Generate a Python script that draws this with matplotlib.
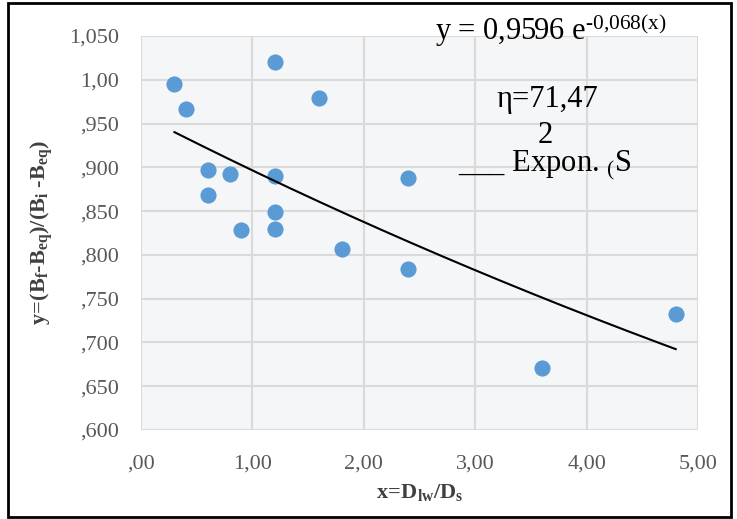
import numpy as np
import matplotlib
matplotlib.use("Agg")
import matplotlib.pyplot as plt
from matplotlib.patches import Rectangle

# ---- data ----
x_vals = [0.30, 0.40, 1.20, 1.60, 0.60, 0.80, 0.60, 1.20, 0.90, 1.20, 1.20, 1.80, 2.40, 2.40, 3.60, 4.80]
y_vals = [0.995, 0.967, 1.020, 0.979, 0.897, 0.892, 0.868, 0.890, 0.828, 0.849, 0.830, 0.807, 0.888, 0.784, 0.671, 0.733]
fit_a = 0.9596
fit_b = -0.068
fit_range = [0.30, 4.80]
x_ticks = [0, 1, 2, 3, 4, 5]
x_ticklabels = [',00', '1,00', '2,00', '3,00', '4,00', '5,00']
y_ticks = [0.60, 0.65, 0.70, 0.75, 0.80, 0.85, 0.90, 0.95, 1.00, 1.05]
y_ticklabels = [',600', ',650', ',700', ',750', ',800', ',850', ',900', ',950', '1,00', '1,050']

plt.rcParams['font.family'] = ['Liberation Serif', 'DejaVu Serif']
plt.rcParams['mathtext.fontset'] = 'custom'
plt.rcParams['mathtext.rm'] = 'Liberation Serif'
plt.rcParams['mathtext.it'] = 'Liberation Serif:italic'
plt.rcParams['mathtext.bf'] = 'Liberation Serif:bold'

W, H = 737, 519
fig = plt.figure(figsize=(W / 100, H / 100), dpi=100)
fig.patch.set_facecolor('white')

left, right, top, bottom = 141, 698, 36, 430
ax = fig.add_axes([left / W, 1 - bottom / H, (right - left) / W, (bottom - top) / H])
ax.set_facecolor('#F5F6F7')
ax.set_xlim(0, 5)
ax.set_ylim(0.6, 1.05)
ax.set_xticks(x_ticks)
ax.set_xticklabels(x_ticklabels)
ax.set_yticks(y_ticks)
ax.set_yticklabels(y_ticklabels)
ax.grid(True, color='#DADADA', linewidth=1.5)
ax.set_axisbelow(True)
for s in ax.spines.values():
    s.set_visible(False)
ax.tick_params(length=0, labelsize=16, colors='#595959')
ax.tick_params(axis='y', pad=16)
ax.tick_params(axis='x', pad=18)

ax.scatter(x_vals, y_vals, s=135, color='#5B9BD5', zorder=3, linewidths=0)

xf = np.linspace(fit_range[0], fit_range[1], 200)
ax.plot(xf, fit_a * np.exp(fit_b * xf), color='black', linewidth=1.5, zorder=4)

ax.set_xlabel(r'$\mathbf{x\!=\!D_{lw}/D_s}$', fontsize=16, color='#404040', labelpad=6)
ax.set_ylabel(r'$\mathbf{y\!=\!(B_f\text{-}B_{eq})/(B_i\ \text{-}B_{eq})}$', fontsize=16,
              color='#404040', labelpad=10)

fig.text(551 / W, 1 - 30 / H, r'y = 0,9596 e$^{\mathrm{\text{-}0{,}068(x)}}$', fontsize=22,
         ha='center', va='center', color='black', zorder=10)
fig.text(547 / W, 1 - 100 / H, 'η=71,47', fontsize=22, ha='center', va='center')
fig.text(545 / W, 1 - 136 / H, '2', fontsize=22, ha='center', va='center')
fig.text(458 / W, 1 - 165 / H, r'___ Expon. $_{(}$S', fontsize=22, ha='left', va='center')

fig.patches.append(Rectangle((8 / W, 1 - 517 / H), 723 / W, 514 / H, transform=fig.transFigure,
                             fill=False, edgecolor='black', linewidth=2))

fig.savefig('out.png', dpi=100)
